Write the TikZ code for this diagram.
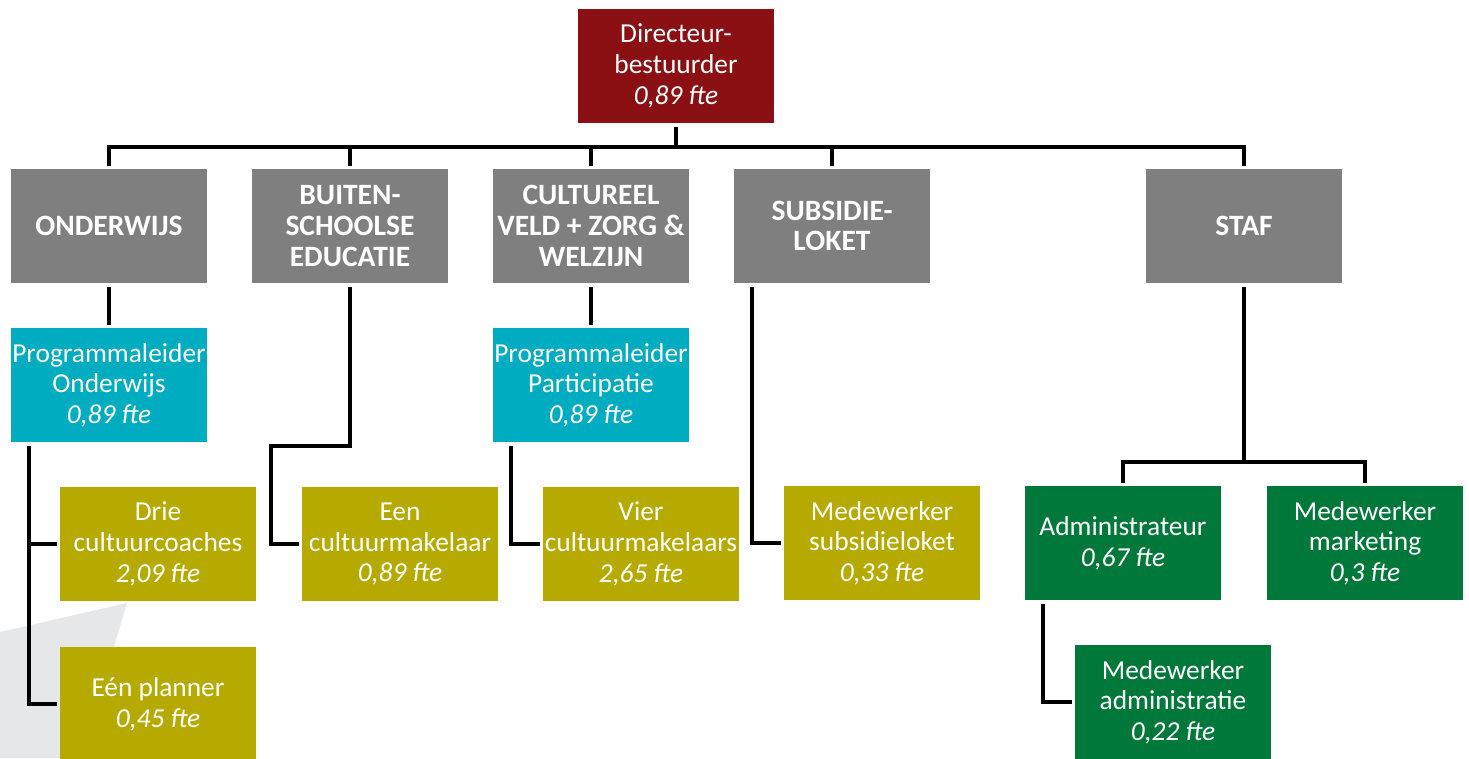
\documentclass[tikz,border=0pt]{standalone}
\usepackage{fontspec}
\setmainfont{Carlito}
\usepackage{tikz}
\usetikzlibrary{positioning}

\definecolor{dirrood}{RGB}{139,16,20}
\definecolor{afdgrijs}{RGB}{127,127,127}
\definecolor{leidblauw}{RGB}{0,172,191}
\definecolor{medolijf}{RGB}{182,170,0}
\definecolor{stafgroen}{RGB}{0,120,58}
\definecolor{wmgrijs}{RGB}{230,231,233}

\newcommand{\ftetal}[1]{{\itshape #1 fte}}

\tikzset{
  blok/.style={rectangle, minimum width=3.92cm, minimum height=2.28cm,
    inner sep=0pt, outer sep=2pt, align=center, text=white,
    font=\fontsize{15.6}{17.5}\selectfont},
  dirbox/.style={blok, fill=dirrood},
  afdeling/.style={blok, fill=afdgrijs, font=\fontsize{16.8}{17.5}\selectfont\bfseries},
  leider/.style={blok, fill=leidblauw},
  medew/.style={blok, fill=medolijf},
  staflid/.style={blok, fill=stafgroen},
  lijn/.style={draw=black, line width=1.8pt}
}

\begin{document}
\begin{tikzpicture}[x=0.02cm,y=-0.02cm]
	\useasboundingbox (0,0) rectangle (1469,758);
	% watermerk linksonder
	\fill[wmgrijs] (0,632) -- (127,603) -- (113,650) -- (60,650) -- (60,758) -- (0,758) -- cycle;

	\node[dirbox] (dir) at (676,66) {Directeur-\\bestuurder\\\ftetal{0,89}};

	\node[afdeling] (ondw) at (109,226) {ONDERWIJS};
	\node[afdeling] (bso)  at (350,226) {BUITEN-\\SCHOOLSE\\EDUCATIE};
	\node[afdeling] (cult) at (591,226) {CULTUREEL\\VELD + ZORG \&\\WELZIJN};
	\node[afdeling] (subs) at (832,226) {SUBSIDIE-\\LOKET};
	\node[afdeling] (staf) at (1244,226) {STAF};

	\node[leider] (plo) at (109,385) {Programmaleider\\Onderwijs\\\ftetal{0,89}};
	\node[leider] (plp) at (591,385) {Programmaleider\\Participatie\\\ftetal{0,89}};

	\node[medew] (coach) at (158,544) {Drie\\cultuurcoaches\\\ftetal{2,09}};
	\node[medew] (plan)  at (158,704) {Eén planner\\\ftetal{0,45}};
	\node[medew] (makl)  at (400,544) {Een\\cultuurmakelaar\\\ftetal{0,89}};
	\node[medew] (makls) at (641,544) {Vier\\cultuurmakelaars\\\ftetal{2,65}};
	\node[medew] (msub)  at (882,543) {Medewerker\\subsidieloket\\\ftetal{0,33}};

	\node[staflid] (admin) at (1123,543) {Administrateur\\\ftetal{0,67}};
	\node[staflid] (mark)  at (1365,543) {Medewerker\\marketing\\\ftetal{0,3}};
	\node[staflid] (madm)  at (1173,702) {Medewerker\\administratie\\\ftetal{0,22}};

	% knikpunten
	\coordinate (bus) at (676,147);
	\coordinate (stafbus) at (1244,462);
	\coordinate (ko) at (29,446);
	\coordinate (kb) at (271,446);
	\coordinate (kp) at (511,446);
	\coordinate (ks) at (752,287);
	\coordinate (ka) at (1043,604);

	\draw[lijn] (dir) -- (bus);
	\draw[lijn] (ondw.north) |- (bus) -| (staf.north);
	\draw[lijn] (bso.north) -- (bso.north |- bus);
	\draw[lijn] (cult.north) -- (cult.north |- bus);
	\draw[lijn] (subs.north) -- (subs.north |- bus);

	\draw[lijn] (ondw) -- (plo);
	\draw[lijn] (cult) -- (plp);
	\draw[lijn] (ko) |- (coach);
	\draw[lijn] (ko) |- (plan);
	\draw[lijn] (bso.south) |- (kb) |- (makl);
	\draw[lijn] (kp) |- (makls);
	\draw[lijn] (ks) |- (msub);

	\draw[lijn] (staf) -- (stafbus);
	\draw[lijn] (admin.north) |- (stafbus) -| (mark.north);
	\draw[lijn] (ka) |- (madm);
\end{tikzpicture}
\end{document}
